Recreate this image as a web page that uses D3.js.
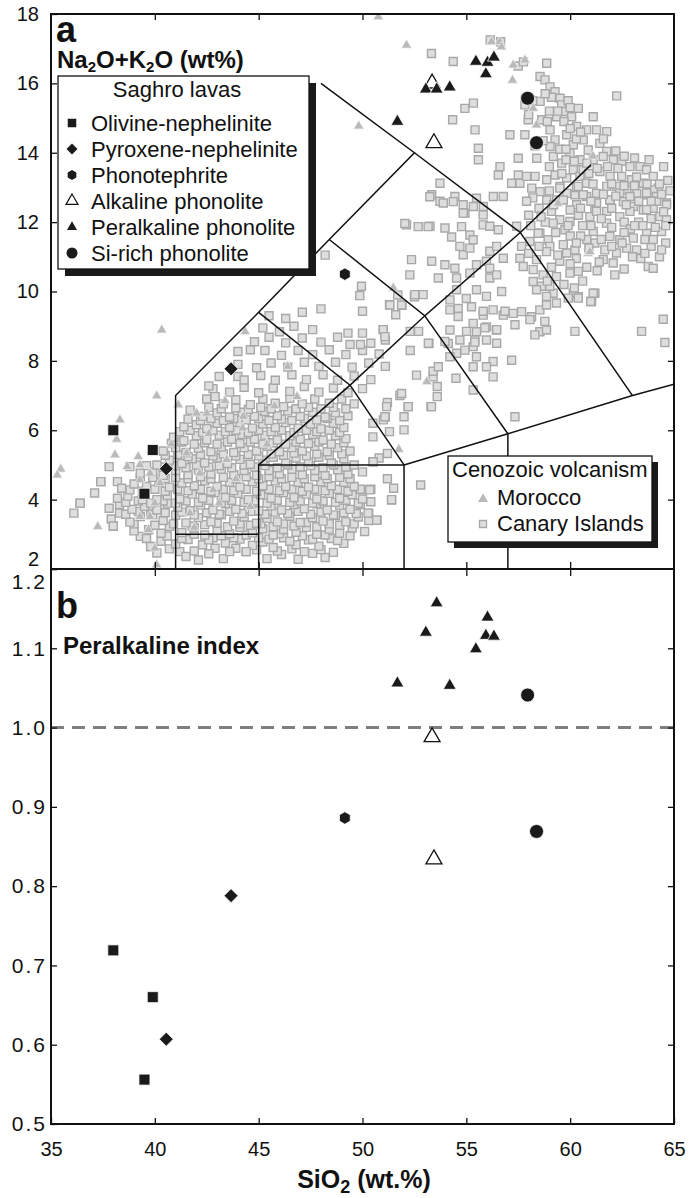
<!DOCTYPE html>
<html>
<head>
<meta charset="utf-8">
<script src="https://cdn.jsdelivr.net/npm/d3@7"></script>
<style>
  body { margin: 0; background: #fff; }
  svg { display: block; font-family: "Liberation Sans", Arial, Helvetica, sans-serif; }
</style>
</head>
<body>
<svg id="chart" width="691" height="1198"></svg>
<script>
// ---- axis ticks ----
const xTicks = [35, 40, 45, 50, 55, 60, 65];
const tasTicks = [2, 4, 6, 8, 10, 12, 14, 16, 18];
const piTicks = [0.5, 0.6, 0.7, 0.8, 0.9, 1.0, 1.1, 1.2];

// ---- TAS field boundaries [SiO2, Na2O+K2O] ----
const tasLines = [
  [[41, 2], [41, 7], [45, 9.4], [48.4, 11.5], [52.5, 14], [48, 16]],
  [[41, 3], [45, 3]],
  [[45, 2], [45, 5], [52, 5], [52, 2]],
  [[45, 9.4], [49.4, 7.3], [45, 5]],
  [[49.4, 7.3], [52, 5]],
  [[49.4, 7.3], [53, 9.3], [57, 5.9], [57, 2]],
  [[52, 5], [57, 5.9], [63, 7], [65, 7.33]],
  [[48.4, 11.5], [53, 9.3], [57.6, 11.7], [63, 7]],
  [[52.5, 14], [57.6, 11.7], [61, 13.65]]
];

// ---- Saghro lavas [SiO2, Na2O+K2O, peralkaline index] ----
const olivineNephelinite = [[38.0, 6.0, 0.719], [39.9, 5.43, 0.66], [39.5, 4.17, 0.556]];
const pyroxeneNephelinite = [[40.55, 4.89, 0.607], [43.67, 7.77, 0.788]];
const phonotephrite = [[49.15, 10.5, 0.886]];
const alkalinePhonolite = [[53.35, 16.0, 0.988], [53.44, 14.28, 0.834]];
const peralkalinePhonolite = [
  [51.68, 14.9, 1.056], [53.05, 15.83, 1.12], [53.57, 15.83, 1.157], [54.2, 15.89, 1.053],
  [55.46, 16.63, 1.099], [55.94, 16.27, 1.116], [56.02, 16.6, 1.139], [56.33, 16.75, 1.115]
];
const siRichPhonolite = [[57.95, 15.57, 1.041], [58.38, 14.29, 0.869]];

// ---- Cenozoic volcanism, Morocco [SiO2, Na2O+K2O] ----
const morocco = [
  [50.76, 17.92], [52.12, 17.1], [56.21, 17.2], [56.61, 17.2], [56.69, 17.05], [57.26, 16.53],
  [57.82, 16.67], [57.22, 16.09], [49.82, 14.77], [58.22, 15.28], [58.38, 14.8], [61.1, 13.9],
  [59.42, 12.54], [60.87, 11.1], [51.48, 10.1], [53.1, 7.4], [51.75, 5.45], [44.35, 8.84],
  [40.33, 8.89], [40.09, 6.99], [38.32, 6.3], [38.16, 5.74], [38.08, 5.29], [35.47, 4.88],
  [35.3, 4.71], [37.25, 3.22], [38.67, 4.95], [39.2, 5.24], [39.28, 5.0], [39.77, 4.76],
  [39.28, 4.57], [40.25, 4.48], [39.28, 3.51], [39.77, 3.51], [39.69, 3.13], [40.0, 3.9],
  [40.0, 2.6], [41.13, 6.73], [42.01, 6.49], [42.5, 6.49], [43.38, 6.85], [44.26, 6.4],
  [41.53, 5.34], [42.17, 4.76], [42.81, 4.28], [43.46, 5.15], [41.69, 3.61], [46.4, 7.84],
  [46.85, 6.97], [45.77, 6.7], [44.23, 6.06], [40.09, 2.12], [42.6, 5.9], [43.9, 4.6],
  [41.9, 3.2], [44.6, 3.8], [45.4, 5.6], [43.1, 3.9], [40.8, 5.6], [60.95, 11.15]
];

// ---- Cenozoic volcanism, Canary Islands [SiO2, Na2O+K2O] ----
const canaryIslands = [
  // low-silica cloud
  [40.1, 2.46], [41.2, 2.5], [41.5, 2.36], [42.1, 2.26], [42.9, 2.6], [43.3, 2.3], [43.9, 2.6], [44.4, 2.5],
  [45.4, 2.3], [46.1, 2.42], [46.9, 2.28], [47.6, 2.45], [48.2, 2.33],
  [40.7, 2.58], [41.9, 2.52], [42.6, 2.44], [43.6, 2.5], [44.9, 2.55], [45.9, 2.52], [46.6, 2.58], [47.2, 2.5],
  [48.0, 2.56], [48.6, 2.48],
  [39.3, 2.94], [39.8, 2.65], [40.3, 2.8], [41.0, 2.72], [41.6, 2.85], [42.3, 2.7], [42.8, 2.9], [43.4, 2.75],
  [44.1, 2.86], [44.7, 2.68], [45.2, 2.78], [45.7, 2.62], [46.2, 2.9], [46.8, 2.7], [47.4, 2.84], [47.9, 2.66],
  [48.5, 2.88], [49.1, 2.74],
  [39.6, 2.88], [40.6, 2.95], [41.3, 2.88], [41.9, 3.0], [42.6, 2.84], [43.2, 2.96], [43.8, 2.9], [44.4, 2.98],
  [45.0, 2.9], [45.5, 2.86], [46.0, 3.02], [46.5, 2.8], [47.1, 2.96], [47.6, 2.86], [48.2, 2.98], [48.8, 2.82],
  [49.4, 2.96],
  [38.0, 3.24], [39.0, 3.1], [39.7, 3.13], [40.3, 3.03], [40.7, 3.23], [41.3, 3.05], [41.9, 3.18], [42.4, 2.98],
  [43.0, 3.12], [43.6, 3.02], [44.1, 3.2], [44.7, 3.04], [45.2, 3.16], [45.7, 2.98], [46.2, 3.14], [46.8, 3.06],
  [47.3, 3.2], [47.8, 3.0], [48.4, 3.15], [48.9, 3.03], [49.5, 3.18], [50.1, 3.08],
  [39.0, 3.3], [40.0, 3.26], [40.9, 3.3], [41.8, 3.24], [42.4, 3.28], [43.0, 3.32], [43.5, 3.22], [44.1, 3.3],
  [44.6, 3.26], [45.1, 3.3], [45.7, 3.22], [46.2, 3.3], [46.7, 3.24], [47.3, 3.34], [47.8, 3.22], [48.4, 3.3],
  [48.9, 3.26], [49.6, 3.3],
  [37.9, 3.44], [38.3, 3.61], [38.8, 3.35], [39.3, 3.51], [39.8, 3.61], [40.4, 3.4], [41.0, 3.55], [41.5, 3.33],
  [42.1, 3.48], [42.7, 3.36], [43.2, 3.56], [43.8, 3.38], [44.3, 3.5], [44.9, 3.32], [45.4, 3.46], [45.9, 3.36],
  [46.5, 3.52], [47.0, 3.34], [47.6, 3.48], [48.1, 3.38], [48.7, 3.54], [49.2, 3.36], [49.8, 3.5], [50.3, 3.4],
  [50.7, 3.41],
  [38.6, 3.58], [39.2, 3.66], [39.9, 3.56], [40.5, 3.62], [41.3, 3.64], [41.9, 3.56], [42.5, 3.62], [43.1, 3.58],
  [43.6, 3.66], [44.2, 3.6], [44.7, 3.66], [45.3, 3.58], [45.8, 3.64], [46.4, 3.6], [46.9, 3.66], [47.5, 3.58],
  [48.0, 3.64], [48.6, 3.56], [49.1, 3.62], [49.7, 3.6],
  [36.1, 3.61], [36.4, 3.9], [37.8, 3.75], [38.3, 3.86], [38.9, 3.72], [39.5, 3.8], [40.1, 3.7], [40.6, 3.9],
  [41.1, 3.78], [41.7, 3.68], [42.2, 3.84], [42.8, 3.7], [43.4, 3.88], [43.9, 3.72], [44.5, 3.84], [45.0, 3.68],
  [45.6, 3.82], [46.1, 3.7], [46.7, 3.86], [47.2, 3.74], [47.8, 3.88], [48.3, 3.7], [48.9, 3.84], [49.4, 3.72],
  [49.9, 3.86], [50.3, 3.61], [50.4, 3.94],
  [38.6, 3.92], [39.2, 3.96], [39.8, 3.9], [40.4, 3.96], [41.0, 3.9], [41.5, 3.96], [42.1, 3.92], [42.6, 3.98],
  [43.2, 3.92], [43.7, 3.98], [44.3, 3.92], [44.8, 3.96], [45.4, 3.9], [45.9, 3.98], [46.5, 3.92], [47.0, 3.96],
  [47.6, 3.9], [48.1, 3.96], [48.7, 3.92], [49.2, 3.98], [49.8, 3.9],
  [37.1, 4.19], [38.2, 4.04], [38.7, 4.1], [39.4, 4.0], [40.1, 4.0], [40.6, 4.12], [41.2, 4.02], [41.8, 4.16],
  [42.3, 4.04], [42.9, 4.2], [43.4, 4.06], [44.0, 4.18], [44.5, 4.0], [45.1, 4.14], [45.6, 4.04], [46.2, 4.2],
  [46.7, 4.06], [47.3, 4.16], [47.8, 4.02], [48.4, 4.18], [48.9, 4.04], [49.5, 4.14], [50.0, 4.02], [51.4, 3.99],
  [51.5, 4.33],
  [38.8, 4.28], [39.4, 4.24], [40.0, 4.3], [40.5, 4.24], [41.1, 4.3], [41.6, 4.26], [42.2, 4.3], [42.7, 4.24],
  [43.3, 4.3], [43.8, 4.26], [44.4, 4.3], [44.9, 4.24], [45.5, 4.3], [46.0, 4.26], [46.6, 4.3], [47.1, 4.24],
  [47.7, 4.3], [48.2, 4.26], [48.8, 4.3], [49.3, 4.24], [49.9, 4.3],
  [37.4, 4.52], [38.2, 4.52], [38.4, 4.33], [39.0, 4.45], [39.6, 4.38], [40.2, 4.5], [40.7, 4.36], [41.3, 4.48],
  [41.9, 4.4], [42.4, 4.54], [43.0, 4.38], [43.6, 4.5], [44.1, 4.36], [44.7, 4.52], [45.2, 4.4], [45.8, 4.54],
  [46.3, 4.38], [46.9, 4.5], [47.4, 4.36], [48.0, 4.52], [48.5, 4.4], [49.1, 4.5], [49.6, 4.38], [50.4, 4.3],
  [52.8, 4.42], [51.2, 4.6],
  [39.3, 4.62], [39.9, 4.64], [40.5, 4.6], [41.0, 4.64], [41.6, 4.6], [42.2, 4.66], [42.7, 4.6], [43.3, 4.64],
  [43.9, 4.6], [44.4, 4.66], [45.0, 4.6], [45.5, 4.66], [46.1, 4.6], [46.6, 4.64], [47.2, 4.6], [47.7, 4.66],
  [48.3, 4.6], [48.9, 4.64], [49.4, 4.6],
  [37.8, 4.95], [38.8, 4.95], [39.3, 4.76], [39.9, 4.8], [40.4, 4.7], [41.0, 4.84], [41.6, 4.72], [42.1, 4.86],
  [42.7, 4.74], [43.2, 4.88], [43.8, 4.72], [44.3, 4.84], [44.9, 4.7], [45.5, 4.84], [46.0, 4.74], [46.6, 4.88],
  [47.1, 4.72], [47.7, 4.84], [48.2, 4.7], [48.8, 4.86], [49.3, 4.74], [50.0, 4.8], [50.5, 5.09],
  [39.6, 4.98], [40.4, 4.94], [41.0, 4.98], [41.5, 4.92], [42.0, 5.0], [42.6, 4.94], [43.1, 4.98], [43.7, 4.92],
  [44.3, 5.0], [44.8, 4.94], [45.3, 4.98], [45.9, 4.92], [46.4, 5.0], [47.0, 4.94], [47.5, 4.98], [48.1, 4.92],
  [48.6, 5.0], [49.2, 4.94],
  [40.1, 5.0], [40.7, 5.14], [41.3, 5.04], [41.8, 5.18], [42.4, 5.06], [43.0, 5.2], [43.5, 5.04], [44.1, 5.16],
  [44.6, 5.02], [45.2, 5.14], [45.7, 5.22], [46.3, 5.06], [46.8, 5.2], [47.4, 5.08], [47.9, 5.22], [48.5, 5.06],
  [49.1, 5.18], [49.6, 5.0], [50.8, 5.2], [51.2, 5.33],
  [40.5, 5.28], [41.1, 5.3], [41.6, 5.24], [42.2, 5.3], [42.8, 5.26], [43.3, 5.32], [43.9, 5.26], [44.5, 5.3],
  [45.0, 5.26], [45.6, 5.32], [46.2, 5.28], [46.7, 5.34], [47.3, 5.26], [47.8, 5.32], [48.4, 5.28], [49.0, 5.32],
  [40.4, 5.4], [41.0, 5.5], [41.5, 5.36], [42.1, 5.48], [42.7, 5.38], [43.2, 5.52], [43.8, 5.36], [44.3, 5.5],
  [44.9, 5.4], [45.4, 5.54], [46.0, 5.38], [46.6, 5.5], [47.1, 5.4], [47.7, 5.54], [48.3, 5.38], [48.8, 5.5],
  [49.4, 5.4],
  [40.8, 5.62], [41.3, 5.66], [41.9, 5.6], [42.4, 5.64], [43.0, 5.6], [43.5, 5.66], [44.1, 5.62], [44.6, 5.66],
  [45.2, 5.6], [45.7, 5.64], [46.3, 5.6], [46.8, 5.66], [47.4, 5.62], [47.9, 5.66], [48.5, 5.6], [49.1, 5.64],
  [40.9, 5.8], [41.4, 5.7], [42.0, 5.84], [42.5, 5.72], [43.1, 5.86], [43.7, 5.74], [44.2, 5.88], [44.8, 5.74],
  [45.3, 5.86], [45.9, 5.72], [46.5, 5.84], [47.0, 5.74], [47.6, 5.88], [48.1, 5.72], [48.7, 5.84], [49.2, 5.76],
  [50.5, 5.81],
  [41.2, 5.96], [41.7, 6.0], [42.3, 5.94], [42.8, 6.0], [43.4, 5.96], [43.9, 6.0], [44.5, 5.94], [45.0, 6.0],
  [45.6, 5.96], [46.1, 6.0], [46.7, 5.94], [47.3, 6.0], [47.8, 5.96], [48.4, 6.0], [48.9, 5.94],
  [41.4, 6.1], [42.0, 6.16], [42.5, 6.05], [43.0, 6.2], [43.6, 6.08], [44.1, 6.22], [44.7, 6.06], [45.2, 6.18],
  [45.8, 6.08], [46.3, 6.22], [46.9, 6.06], [47.5, 6.18], [48.0, 6.04], [48.6, 6.2], [49.1, 6.08], [51.3, 5.96],
  [52.0, 6.01],
  [41.6, 6.32], [42.2, 6.28], [42.7, 6.34], [43.3, 6.28], [43.8, 6.34], [44.4, 6.3], [45.0, 6.34], [45.5, 6.28],
  [46.1, 6.32], [46.6, 6.28], [47.2, 6.34], [47.8, 6.3], [48.3, 6.34], [48.9, 6.28],
  [41.7, 6.58], [42.3, 6.4], [43.0, 6.5], [43.6, 6.38], [44.2, 6.52], [44.8, 6.4], [45.3, 6.54], [45.9, 6.42],
  [46.4, 6.56], [47.0, 6.4], [47.6, 6.52], [48.2, 6.38], [48.7, 6.5], [49.3, 6.42], [50.5, 6.2], [51.1, 6.39],
  [52.0, 6.39], [51.0, 6.3],
  [42.6, 6.66], [43.2, 6.62], [43.9, 6.64], [44.5, 6.6], [45.1, 6.66], [45.6, 6.62], [46.2, 6.68], [46.8, 6.62],
  [47.4, 6.66], [48.0, 6.62], [48.6, 6.66], [49.2, 6.62],
  [42.5, 6.9], [43.3, 6.76], [43.9, 6.88], [44.6, 6.74], [45.2, 6.9], [45.8, 6.78], [46.5, 6.92], [47.1, 6.76],
  [47.7, 6.9], [48.4, 6.78], [49.0, 6.9], [49.6, 6.76], [51.2, 6.8], [52.2, 6.68], [53.3, 6.68],
  [42.8, 7.2], [43.6, 7.1], [44.3, 7.24], [45.0, 7.08], [45.7, 7.22], [46.5, 7.12], [47.2, 7.26], [47.9, 7.1],
  [48.6, 7.22], [49.3, 7.08], [50.0, 7.2], [51.8, 7.0], [53.6, 6.97], [53.6, 7.26],
  [43.1, 7.55], [44.0, 7.55], [44.3, 7.45], [45.1, 7.58], [45.8, 7.44], [46.6, 7.6], [47.3, 7.46], [48.1, 7.6],
  [48.8, 7.44], [49.6, 7.56], [50.4, 7.46], [52.6, 7.59], [53.4, 7.54], [54.5, 7.5],
  [44.0, 7.9], [44.9, 7.8], [45.6, 7.94], [46.4, 7.82], [47.2, 7.96], [47.9, 7.84], [48.7, 7.96], [49.5, 7.82],
  [50.3, 7.94], [51.1, 7.84], [53.4, 7.7], [53.65, 7.83],
  [44.0, 8.27], [44.6, 8.32], [45.3, 8.3], [46.1, 8.16], [46.9, 8.3], [47.6, 8.18], [48.4, 8.32], [49.2, 8.18],
  [50.0, 8.3], [50.8, 8.2], [52.3, 8.3],
  [44.8, 8.55], [45.5, 8.68], [46.3, 8.52], [47.1, 8.66], [48.0, 8.54], [48.8, 8.68], [49.4, 8.47], [49.9, 8.47],
  [50.4, 8.51], [51.1, 8.6], [53.2, 8.5],
  [45.2, 8.95], [46.0, 8.84], [46.7, 9.0], [47.6, 8.9], [49.3, 8.8], [50.0, 8.8], [51.0, 8.9], [52.3, 8.85],
  [52.7, 8.85], [45.5, 9.3], [46.3, 9.22], [47.1, 9.4], [48.0, 9.5], [50.0, 9.43], [51.6, 9.33], [51.3, 9.62],
  [51.9, 9.6], [51.7, 9.9], [52.5, 9.85],
  [42.9, 6.97], [42.6, 7.28], [37.4, 4.52], [36.4, 3.9], [38.0, 3.24], [39.8, 2.65], [44.4, 2.5],
  // mid-silica cloud
  [54.21, 9.47], [54.61, 9.51], [55.25, 9.56], [55.81, 9.32], [56.29, 9.47], [56.78, 9.32], [57.26, 9.37],
  [57.66, 9.42], [58.14, 9.27], [58.54, 9.47], [58.86, 9.61], [59.18, 9.95], [58.54, 8.84], [58.86, 8.89],
  [60.15, 9.95], [61.19, 9.95], [61.03, 9.71], [60.39, 9.85], [54.21, 8.89], [54.69, 8.6], [54.13, 8.5],
  [54.53, 8.22], [54.21, 8.12], [55.33, 9.08], [55.49, 8.84], [55.97, 8.98], [56.45, 8.89], [55.41, 8.6],
  [55.97, 8.6], [55.33, 8.41], [54.93, 8.31], [55.49, 8.12], [56.29, 7.98], [55.97, 7.83], [55.33, 7.83],
  [57.18, 8.02], [56.29, 7.54], [55.33, 7.16], [57.34, 6.39], [53.32, 6.68], [51.88, 7.06], [52.2, 6.68],
  [51.16, 6.68], [51.08, 6.39], [50.52, 5.09], [51.4, 4.0], [50.35, 4.28], [50.68, 3.41], [50.27, 3.61],
  [51.88, 9.61], [51.32, 9.61], [60.23, 8.85], [63.44, 8.85], [64.48, 9.2], [64.56, 8.53],
  [53.73, 13.12], [53.33, 12.79], [53.73, 12.6], [54.45, 12.74], [54.85, 12.5], [54.93, 12.26], [55.49, 12.69],
  [55.81, 12.21], [55.81, 11.92], [56.13, 11.88], [56.54, 11.78], [55.17, 11.63], [54.77, 11.87], [53.97, 11.83],
  [53.25, 11.88], [52.12, 11.92], [54.29, 11.57], [55.33, 11.49], [54.85, 11.06], [55.17, 11.25], [54.69, 11.3],
  [56.13, 11.16], [56.46, 11.3], [56.78, 10.96], [55.97, 10.87], [56.13, 10.67], [55.49, 10.77], [55.17, 10.53],
  [54.45, 10.67], [53.97, 10.77], [53.33, 10.87], [52.36, 10.92], [52.28, 10.48], [53.65, 10.39], [54.53, 10.39],
  [54.53, 10.05], [55.49, 10.05], [55.97, 9.86], [56.7, 10.0], [56.13, 10.39], [56.46, 10.48], [54.21, 9.76],
  [52.52, 9.91], [52.92, 9.91], [49.95, 10.15], [49.87, 9.88], [51.0, 8.9], [51.08, 8.7], [53.17, 8.51],
  [53.97, 8.56], [55.41, 8.54], [56.46, 8.51], [55.01, 8.85], [55.89, 8.95], [56.46, 8.9], [57.34, 9.04],
  [58.3, 8.75], [58.06, 9.19], [58.78, 9.14], [54.61, 9.28], [55.81, 9.43], [56.86, 9.43], [55.0, 9.8],
  [52.04, 11.96], [52.68, 11.87], [53.16, 11.87], [53.24, 12.73], [48.2, 11.05],
  // high-silica cloud
  [58.87, 16.58], [58.55, 16.2], [58.79, 16.1], [59.03, 15.9], [59.27, 15.76], [59.51, 15.57], [59.59, 15.38],
  [59.75, 15.19], [59.35, 15.04], [60.07, 15.04], [60.31, 14.76], [60.39, 15.28], [61.11, 15.04], [62.24, 15.64],
  [57.82, 15.38], [58.55, 15.48], [57.98, 14.95], [58.63, 14.95], [57.82, 14.52], [59.03, 14.66], [59.27, 14.37],
  [59.03, 14.18], [59.83, 14.52], [60.15, 14.23], [60.79, 14.66], [61.27, 14.66], [61.76, 14.61], [60.63, 14.37],
  [60.87, 14.08], [59.99, 13.99], [60.47, 13.8], [61.43, 14.27], [61.76, 14.04], [59.19, 13.89], [59.59, 13.7],
  [60.15, 13.51], [60.47, 13.32], [59.83, 13.27], [59.27, 13.36], [58.87, 13.22], [61.11, 13.8], [61.59, 13.89],
  [62.08, 13.8], [62.48, 13.75], [62.88, 13.6], [63.36, 13.6], [63.68, 13.51], [64.0, 13.32], [64.24, 12.98],
  [61.43, 13.46], [61.92, 13.32], [62.48, 13.32], [62.96, 13.22], [63.52, 13.12], [64.0, 12.93], [61.76, 13.03],
  [62.24, 13.03], [62.72, 12.93], [63.2, 12.83], [63.68, 12.79], [64.16, 12.74], [64.64, 12.55], [61.27, 12.83],
  [61.92, 12.64], [62.56, 12.59], [63.04, 12.45], [63.52, 12.35], [64.0, 12.4], [60.63, 13.51], [60.79, 13.12],
  [60.23, 12.79], [60.79, 12.74], [61.19, 12.4], [61.76, 12.31], [59.51, 13.03], [59.83, 12.83], [59.35, 12.64],
  [58.87, 12.64], [58.55, 12.88], [58.15, 12.98], [57.58, 13.12], [57.18, 13.12], [56.78, 12.74], [56.3, 12.74],
  [55.82, 12.45], [55.34, 12.45], [54.85, 12.26], [54.37, 12.59], [53.89, 12.55], [58.31, 13.32], [57.9, 13.32],
  [57.5, 13.36], [56.62, 13.6], [56.54, 13.36], [55.58, 14.13], [55.58, 13.8], [57.5, 13.84], [58.39, 13.84],
  [57.1, 14.52], [55.42, 14.66], [54.93, 15.28], [55.34, 15.43], [54.34, 14.95], [54.37, 16.63], [53.32, 16.86],
  [56.15, 17.25], [56.65, 17.2], [57.5, 16.5], [57.75, 16.62],
  [59.1, 15.6], [59.9, 15.5], [59.7, 14.9], [58.9, 14.9], [60.0, 14.7], [59.5, 14.1], [60.3, 14.4], [58.7, 14.35],
  [58.3, 14.2], [59.8, 13.8], [60.9, 13.4], [61.1, 13.1], [60.3, 13.0], [59.0, 12.9], [58.2, 12.7], [57.9, 12.6],
  [59.5, 12.98], [60.39, 13.03], [60.63, 12.79], [61.27, 12.55], [61.91, 12.64], [62.39, 12.84], [62.88, 12.74],
  [63.68, 12.84], [64.16, 12.6], [64.64, 12.5], [60.95, 12.16], [61.27, 12.31], [61.75, 11.97], [62.39, 12.16],
  [62.88, 12.31], [63.68, 12.36], [64.32, 12.16], [64.64, 12.07], [61.11, 11.73], [61.91, 11.59], [62.39, 11.49],
  [63.04, 11.54], [63.68, 11.68], [64.4, 11.73], [61.19, 11.4], [61.67, 11.2], [62.23, 11.11], [62.72, 11.25],
  [63.2, 11.2], [61.59, 10.92], [62.07, 10.82], [62.15, 10.48], [63.76, 10.72], [64.0, 10.67], [59.75, 11.78],
  [59.5, 12.07], [59.99, 12.02], [59.1, 12.31], [59.67, 12.64], [60.31, 12.5], [59.18, 11.97], [58.54, 11.68],
  [57.42, 11.88], [57.66, 11.3], [58.06, 11.44], [58.46, 11.68], [58.94, 11.49], [59.02, 11.3], [58.38, 10.92],
  [58.86, 11.15], [59.5, 10.87], [59.83, 11.11], [60.23, 11.2], [57.74, 10.72], [57.58, 10.96], [58.22, 10.63],
  [58.7, 10.48], [58.22, 10.29], [58.62, 10.15], [59.02, 10.15], [59.34, 10.43], [59.99, 10.53], [60.39, 10.58],
  [58.38, 10.05], [58.86, 9.86], [59.34, 9.67], [59.91, 9.81], [60.39, 9.81], [61.11, 9.95], [60.99, 9.71],
  [59.67, 11.35], [60.6, 11.9], [60.4, 12.2], [61.5, 12.1], [62.0, 12.4], [62.6, 12.0], [63.3, 12.0], [63.9, 12.1],
  [64.6, 11.4], [63.5, 11.9], [62.9, 11.8], [63.9, 11.3], [64.3, 11.0], [63.4, 10.95], [62.6, 10.65], [60.8, 10.7],
  [61.3, 10.6], [60.3, 10.95], [60.8, 11.5], [60.0, 11.6], [64.8, 12.9], [64.7, 13.2], [63.2, 13.3],
  [58.0, 12.2], [58.5, 12.4], [58.1, 11.9], [58.8, 12.0], [59.3, 11.7], [59.9, 11.9], [60.5, 11.6], [61.0, 11.9],
  [61.5, 11.5], [62.0, 11.85], [62.6, 11.7], [63.1, 11.9], [63.6, 11.5], [64.1, 11.85], [64.6, 11.9], [60.3, 11.4],
  [60.9, 11.25], [61.4, 10.85], [62.0, 11.3], [62.5, 11.4], [63.0, 11.0], [63.6, 11.1], [64.4, 11.2], [64.0, 11.5],
  [59.4, 11.05], [60.0, 10.8], [58.5, 11.3], [58.0, 11.1], [59.1, 10.7], [58.9, 10.3], [59.7, 10.2], [60.6, 10.3],
  [60.2, 10.1], [59.0, 13.6], [59.6, 13.4], [60.2, 13.75], [60.8, 13.7], [61.3, 13.55], [61.8, 13.6], [62.3, 13.55],
  [62.0, 13.1], [62.6, 13.05], [63.1, 13.05], [63.7, 13.1], [64.3, 13.1], [64.5, 12.3], [63.9, 12.6], [63.3, 12.6],
  [62.7, 12.5], [62.2, 12.75], [61.6, 12.8], [61.0, 12.6], [60.5, 12.4], [60.0, 12.35], [59.2, 12.5], [58.6, 12.15],
  [59.8, 14.1], [60.5, 14.6], [60.0, 15.3], [59.0, 15.2], [58.8, 15.7], [59.4, 15.2], [58.2, 15.5], [58.0, 15.1],
  [61.6, 14.4], [62.2, 14.05], [62.6, 13.9], [63.1, 13.85], [63.8, 13.8], [64.5, 13.6], [64.4, 12.8]
];

// ---- layout ----
const left = 51, right = 674, topA = 14, midY = 569, bottomB = 1124;

const svg = d3.select("#chart");
const x = d3.scaleLinear().domain([35, 65]).range([left, right]);
const yA = d3.scaleLinear().domain([2, 18]).range([midY, topA]);
const yB = d3.scaleLinear().domain([0.5, 1.2]).range([bottomB, midY]);

svg.append("defs").append("clipPath").attr("id", "clipA")
  .append("rect").attr("x", left).attr("y", topA).attr("width", right - left).attr("height", midY - topA);

// symbol helper
function shape(type, s) {
  if (type === "hexagon") {
    const r = s / 2;
    const pts = d3.range(6).map(i => {
      const a = Math.PI / 3 * i - Math.PI / 2;
      return [r * Math.cos(a), r * Math.sin(a)];
    });
    return "M" + pts.map(p => p.join(",")).join("L") + "Z";
  }
  if (type === "square") return d3.symbol(d3.symbolSquare, s * s)();
  if (type === "diamond") {
    const h = s / 2;
    return `M0,${-h}L${h},0L0,${h}L${-h},0Z`;
  }
  if (type === "triangle") return d3.symbol(d3.symbolTriangle, Math.sqrt(3) / 4 * s * s)();
  if (type === "circle") return d3.symbol(d3.symbolCircle, Math.PI * s * s / 4)();
}

// ---- panel a: background data ----
const gA = svg.append("g").attr("clip-path", "url(#clipA)");

gA.append("g").selectAll("path")
  .data(canaryIslands)
  .join("path")
  .attr("d", shape("square", 8))
  .attr("transform", d => `translate(${x(d[0])},${yA(d[1])})`)
  .attr("fill", "#dedede")
  .attr("stroke", "#a8a8a8")
  .attr("stroke-width", 1.4);

gA.append("g").selectAll("path")
  .data(morocco)
  .join("path")
  .attr("d", shape("triangle", 10))
  .attr("transform", d => `translate(${x(d[0])},${yA(d[1])})`)
  .attr("fill", "#b9b9b9")
  .attr("stroke", "#ececec")
  .attr("stroke-width", 0.8);

// TAS boundaries
const line = d3.line().x(d => x(d[0])).y(d => yA(d[1]));
gA.append("g").selectAll("path")
  .data(tasLines)
  .join("path")
  .attr("d", line)
  .attr("fill", "none")
  .attr("stroke", "#111")
  .attr("stroke-width", 1.5);

// ---- panel b: reference line ----
svg.append("line")
  .attr("x1", left).attr("x2", right)
  .attr("y1", yB(1.0)).attr("y2", yB(1.0))
  .attr("stroke", "#7f7f7f")
  .attr("stroke-width", 3)
  .attr("stroke-dasharray", "13,8");

// ---- axes ----
function styleAxis(g) {
  g.selectAll(".domain").remove();
  g.selectAll(".tick line").attr("stroke", "#111").attr("stroke-width", 1.3);
  g.selectAll(".tick text").attr("font-size", 20).attr("fill", "#111")
    .attr("font-family", "Liberation Sans, Arial, sans-serif");
}
const inner = [40, 45, 50, 55, 60];

// panel a
svg.append("g").attr("transform", `translate(${left},0)`)
  .call(d3.axisLeft(yA).tickValues(tasTicks).tickSize(-6).tickPadding(12).tickFormat(d3.format("d")))
  .call(styleAxis)
  .call(g => g.selectAll(".tick text").filter(d => d === 2).attr("dy", "-0.18em"));
svg.append("g").attr("transform", `translate(${right},0)`)
  .call(d3.axisRight(yA).tickValues(tasTicks.slice(1, -1)).tickSize(-6).tickFormat(""))
  .call(styleAxis);
svg.append("g").attr("transform", `translate(0,${topA})`)
  .call(d3.axisTop(x).tickValues(inner).tickSize(-6).tickFormat(""))
  .call(styleAxis);
svg.append("g").attr("transform", `translate(0,${midY})`)
  .call(d3.axisBottom(x).tickValues(inner).tickSize(-7).tickFormat(""))
  .call(styleAxis);

// panel b
svg.append("g").attr("transform", `translate(${left},0)`)
  .call(d3.axisLeft(yB).tickValues(piTicks).tickSize(-6).tickPadding(4).tickFormat(d3.format(".1f")))
  .call(styleAxis)
  .call(g => g.selectAll(".tick text").attr("font-size", 21).attr("letter-spacing", 2))
  .call(g => g.selectAll(".tick text").filter(d => d === 1.2).attr("dy", "0.92em"));
svg.append("g").attr("transform", `translate(${right},0)`)
  .call(d3.axisRight(yB).tickValues(piTicks.slice(1, -1)).tickSize(-6).tickFormat(""))
  .call(styleAxis);
svg.append("g").attr("transform", `translate(0,${midY})`)
  .call(d3.axisTop(x).tickValues(inner).tickSize(-7).tickFormat(""))
  .call(styleAxis);
svg.append("g").attr("transform", `translate(0,${bottomB})`)
  .call(d3.axisBottom(x).tickValues(xTicks).tickSize(-6).tickPadding(18))
  .call(styleAxis);

// frames
[[topA, midY], [midY, bottomB]].forEach(([t, b]) => {
  svg.append("rect")
    .attr("x", left).attr("y", t)
    .attr("width", right - left).attr("height", b - t)
    .attr("fill", "none").attr("stroke", "#111").attr("stroke-width", 2);
});

// ---- Saghro lavas ----
const groups = [
  { name: "Olivine-nephelinite", data: olivineNephelinite, type: "square", size: 11, lsize: 8.5, fill: "#1a1a1a" },
  { name: "Pyroxene-nephelinite", data: pyroxeneNephelinite, type: "diamond", size: 14, lsize: 11, fill: "#1a1a1a" },
  { name: "Phonotephrite", data: phonotephrite, type: "hexagon", size: 12.5, lsize: 10, fill: "#1a1a1a" },
  { name: "Alkaline phonolite", data: alkalinePhonolite, type: "triangle", size: 16, lsize: 12, fill: "#fff" },
  { name: "Peralkaline phonolite", data: peralkalinePhonolite, type: "triangle", size: 13, lsize: 10, fill: "#1a1a1a" },
  { name: "Si-rich phonolite", data: siRichPhonolite, type: "circle", size: 14, lsize: 11, fill: "#1a1a1a" }
];

groups.forEach(g => {
  const open = g.fill === "#fff";
  [[yA, 1], [yB, 2]].forEach(([ys, k]) => {
    svg.append("g").selectAll("path")
      .data(g.data)
      .join("path")
      .attr("d", shape(g.type, g.size))
      .attr("transform", d => `translate(${x(d[0])},${ys(d[k])})`)
      .attr("fill", g.fill)
      .attr("stroke", open ? "#111" : "#fff")
      .attr("stroke-width", open ? 1.3 : 0.8);
  });
});

// ---- legend: Saghro lavas ----
const lg = svg.append("g");
lg.append("rect").attr("x", 65).attr("y", 83).attr("width", 251).attr("height", 193).attr("fill", "#1a1a1a");
lg.append("rect").attr("x", 58).attr("y", 76).attr("width", 251).attr("height", 193)
  .attr("fill", "#fff").attr("stroke", "#111").attr("stroke-width", 1.3);
lg.append("text").attr("x", 177).attr("y", 97).attr("text-anchor", "middle")
  .attr("font-size", 22).attr("fill", "#111").text("Saghro lavas");
groups.forEach((g, i) => {
  const cy = 123 + i * 26;
  const open = g.fill === "#fff";
  lg.append("path").attr("d", shape(g.type, g.lsize))
    .attr("transform", `translate(72,${cy})`)
    .attr("fill", g.fill).attr("stroke", open ? "#111" : "none").attr("stroke-width", 1.2);
  lg.append("text").attr("x", 91).attr("y", cy + 8).attr("font-size", 22).attr("fill", "#111").text(g.name);
});

// ---- legend: Cenozoic volcanism ----
const lg2 = svg.append("g");
lg2.append("rect").attr("x", 454).attr("y", 462).attr("width", 204).attr("height", 86).attr("fill", "#1a1a1a");
lg2.append("rect").attr("x", 448).attr("y", 456).attr("width", 204).attr("height", 86)
  .attr("fill", "#fff").attr("stroke", "#111").attr("stroke-width", 1.3);
lg2.append("text").attr("x", 452).attr("y", 477).attr("font-size", 22).attr("fill", "#111").text("Cenozoic volcanism");
lg2.append("path").attr("d", shape("triangle", 10)).attr("transform", "translate(483,499)").attr("fill", "#b9b9b9");
lg2.append("text").attr("x", 497).attr("y", 505).attr("font-size", 22).attr("fill", "#111").text("Morocco");
lg2.append("path").attr("d", shape("square", 7)).attr("transform", "translate(483,524)")
  .attr("fill", "#dedede").attr("stroke", "#a8a8a8").attr("stroke-width", 1.3);
lg2.append("text").attr("x", 497).attr("y", 531).attr("font-size", 22).attr("fill", "#111").text("Canary Islands");

// ---- panel labels and titles ----
svg.append("text").attr("x", 56).attr("y", 42).attr("font-size", 36).attr("font-weight", "bold").attr("fill", "#111").text("a");
svg.append("text").attr("x", 56).attr("y", 618).attr("font-size", 36).attr("font-weight", "bold").attr("fill", "#111").text("b");

const tA = svg.append("text").attr("x", 57).attr("y", 68).attr("font-size", 24).attr("font-weight", "bold").attr("fill", "#111");
tA.append("tspan").text("Na");
tA.append("tspan").attr("font-size", 15).attr("dy", 4).text("2");
tA.append("tspan").attr("dy", -4).text("O+K");
tA.append("tspan").attr("font-size", 15).attr("dy", 4).text("2");
tA.append("tspan").attr("dy", -4).text("O (wt%)");

svg.append("text").attr("x", 63).attr("y", 654).attr("font-size", 24).attr("font-weight", "bold")
  .attr("fill", "#111").text("Peralkaline index");

const tX = svg.append("text").attr("x", 364).attr("y", 1188).attr("text-anchor", "middle")
  .attr("font-size", 25).attr("font-weight", "bold").attr("fill", "#111");
tX.append("tspan").text("SiO");
tX.append("tspan").attr("font-size", 18).attr("dy", 5).text("2");
tX.append("tspan").attr("dy", -5).text(" (wt.%)");
</script>
</body>
</html>
